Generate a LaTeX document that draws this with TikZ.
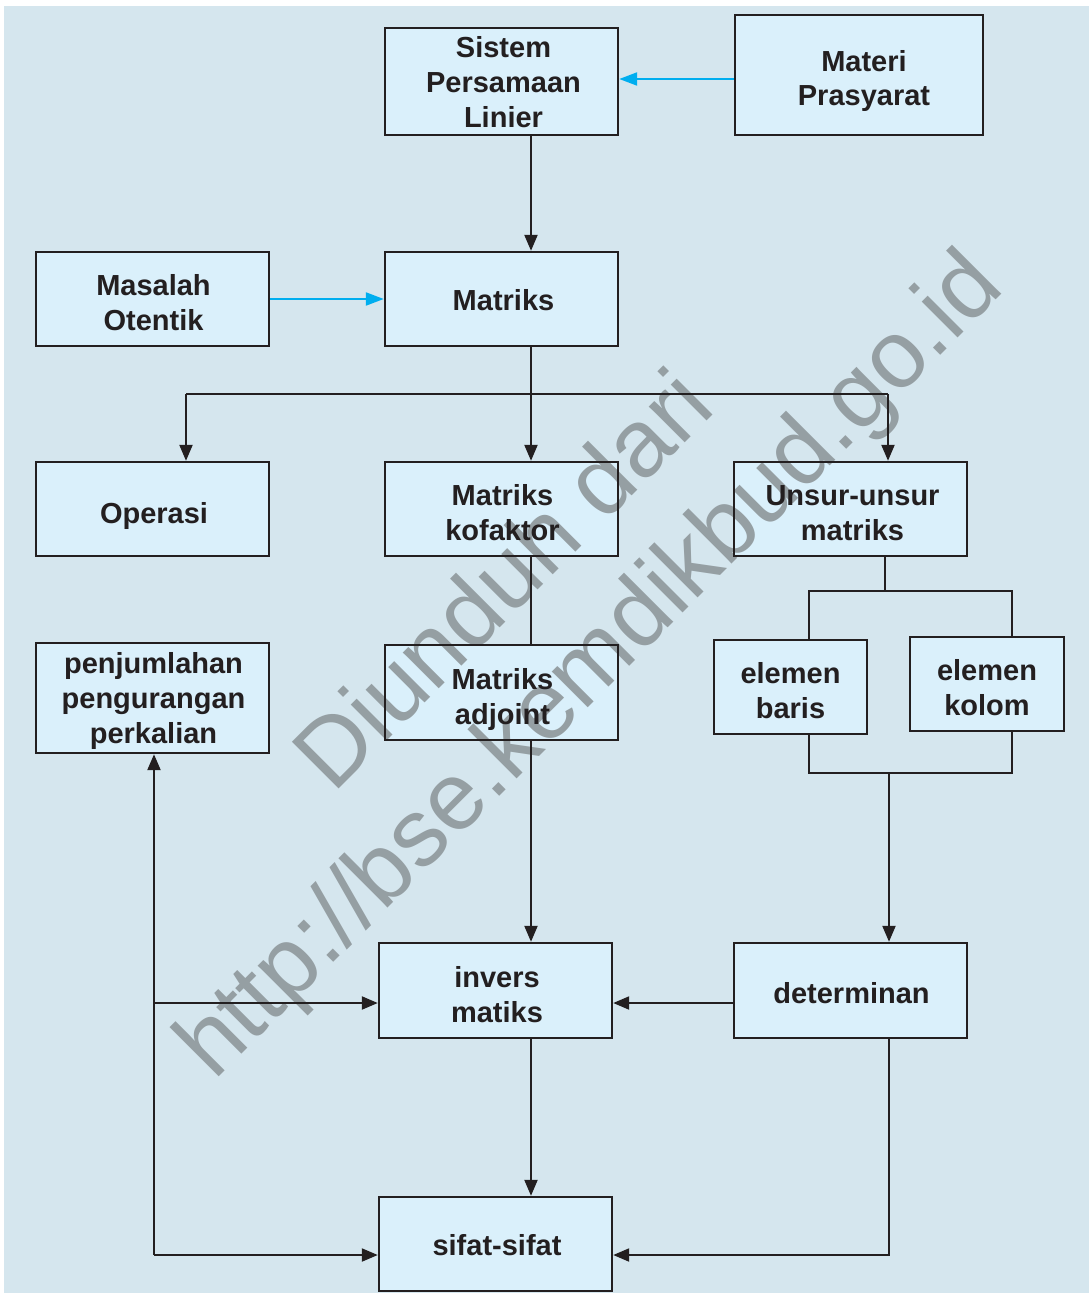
\documentclass[tikz,border=0pt]{standalone}
\usepackage{fontspec}
\setmainfont{Liberation Sans}
\usetikzlibrary{arrows.meta}
\definecolor{bgc}{HTML}{D5E6EE}
\definecolor{boxc}{HTML}{DAF0FB}
\definecolor{inkc}{HTML}{231F20}
\definecolor{bluec}{HTML}{00AEEF}
\definecolor{wmc}{HTML}{959FA3}
\pgfdeclarelayer{bglayer}
\pgfdeclarelayer{filllayer}
\pgfdeclarelayer{wmlayer}
\pgfsetlayers{bglayer,filllayer,wmlayer,main}
\tikzset{
  box/.style={draw=inkc, line width=2.4pt, inner sep=0pt},
  boxtxt/.style={inner sep=0pt, align=center,
    font=\bfseries\fontsize{29}{35}\selectfont, text=inkc},
  conn/.style={draw=inkc, line width=2.2pt},
  arr/.style={conn, -{Triangle[length=16pt,width=13pt]}},
  bluearr/.style={draw=bluec, line width=2.2pt, -{Triangle[length=18pt,width=13pt]}},
  wmark/.style={rotate=45, anchor=base west, inner sep=0pt, text=wmc,
    font=\fontsize{96}{110}\selectfont}
}
% \mybox{name}{center}{width}{height}{xshift}{yshift down}{text}
\newcommand\mybox[7]{%
  \node[box, minimum width=#3, minimum height=#4] (#1) at #2 {};
  \node[boxtxt] (#1t) at ([xshift=#5, yshift=-#6]#1.center) {#7};}
\begin{document}
\begin{tikzpicture}[x=1pt,y=-1pt]
\useasboundingbox (0,0) rectangle (1089,1293);
\begin{pgfonlayer}{bglayer}
\fill[bgc] (4,6) rectangle (1089,1293);
\end{pgfonlayer}

% boxes
\mybox{sistem}{(501.5,81.5)}{233pt}{107pt}{2pt}{1pt}{Sistem\\Persamaan\\Linier}
\mybox{materi}{(859,75)}{248pt}{120pt}{5pt}{6pt}{Materi\\Prasyarat}
\mybox{masalah}{(152.5,299)}{233pt}{94pt}{1pt}{3.5pt}{Masalah\\Otentik}
\mybox{matriks}{(501.5,299)}{233pt}{94pt}{2pt}{1pt}{Matriks}
\mybox{operasi}{(152.5,509)}{233pt}{94pt}{1.5pt}{7pt}{Operasi}
\mybox{kofaktor}{(501.5,509)}{233pt}{94pt}{1pt}{4pt}{Matriks\\kofaktor}
\mybox{unsur}{(850.5,509)}{233pt}{94pt}{2pt}{4pt}{Unsur-unsur\\matriks}
\mybox{baris}{(790.5,687)}{153pt}{94pt}{0pt}{4pt}{elemen\\baris}
\mybox{kolom}{(987,684)}{154pt}{94pt}{0pt}{4pt}{elemen\\kolom}
\mybox{penj}{(152.5,698)}{233pt}{110pt}{1pt}{3pt}{penjumlahan\\pengurangan\\perkalian}
\mybox{adjoint}{(501.5,692.5)}{233pt}{95pt}{1pt}{7pt}{Matriks\\adjoint}
\mybox{invers}{(495.5,990.5)}{233pt}{95pt}{1.5pt}{4pt}{invers\\matiks}
\mybox{determinan}{(850.5,990.5)}{233pt}{95pt}{1pt}{3pt}{determinan}
\mybox{sifat}{(495.5,1244)}{233pt}{94pt}{1.5pt}{1pt}{sifat-sifat}

\begin{pgfonlayer}{filllayer}
\foreach \n in {sistem,materi,masalah,matriks,operasi,kofaktor,unsur,baris,kolom,penj,adjoint,invers,determinan,sifat}
  {\fill[boxc] (\n.south west) rectangle (\n.north east);}
\end{pgfonlayer}

% watermark
\begin{pgfonlayer}{wmlayer}
\node[wmark] (wm1) at (214,1082) {http://bse.kemdikbud.go.id};
\node[wmark] (wm2) at (333,795) {Diunduh dari};
\end{pgfonlayer}

% helper coordinates
\coordinate (cx) at (531,0);
\coordinate (j1) at (531,394);
\coordinate (opx) at (186,394);
\coordinate (unx) at (888,394);
\coordinate (j2) at (885,591);
\coordinate (bl) at (809,591);
\coordinate (kl) at (1012,591);
\coordinate (bb) at (809,773);
\coordinate (kb) at (1012,773);
\coordinate (dx) at (889,773);
\coordinate (r1) at (0,1003);
\coordinate (r2) at (0,1255);
\coordinate (lx) at (154,0);
\coordinate (dcorner) at (889,1255);
\coordinate (lbot) at (154,1255);
\coordinate (lmid) at (154,1003);

% connectors
\draw[bluearr] ([yshift=-4pt]materi.west) -- ([yshift=-4pt]sistem.east |- materi.west);
\draw[bluearr] (masalah.east) -- (matriks.west);
\draw[arr] (sistem.south -| cx) -- (matriks.north -| cx);
\draw[arr] (matriks.south -| cx) -- (kofaktor.north -| cx);
\draw[conn] (opx) -- (unx);
\draw[arr] (opx) -- (operasi.north -| opx);
\draw[arr] (unx) -- (unsur.north -| unx);
\draw[conn] (unsur.south -| j2) -- (j2);
\draw[conn] (baris.north -| bl) -- (bl) -- (kl) -- (kolom.north -| kl);
\draw[conn] (baris.south -| bb) -- (bb) -- (kb) -- (kolom.south -| kb);
\draw[arr] (dx) -- (determinan.north -| dx);
\draw[arr] (determinan.west |- r1) -- (invers.east |- r1);
\draw[arr] (determinan.south -| dcorner) -- (dcorner) -- (sifat.east |- r2);
\draw[conn] (kofaktor.south -| cx) -- (adjoint.north -| cx);
\draw[arr] (adjoint.south -| cx) -- (invers.north -| cx);
\draw[arr] (invers.south -| cx) -- (sifat.north -| cx);
\draw[arr] (lbot) -- (penj.south -| lx);
\draw[arr] (lmid) -- (invers.west |- r1);
\draw[arr] (lbot) -- (sifat.west |- r2);
\end{tikzpicture}
\end{document}
